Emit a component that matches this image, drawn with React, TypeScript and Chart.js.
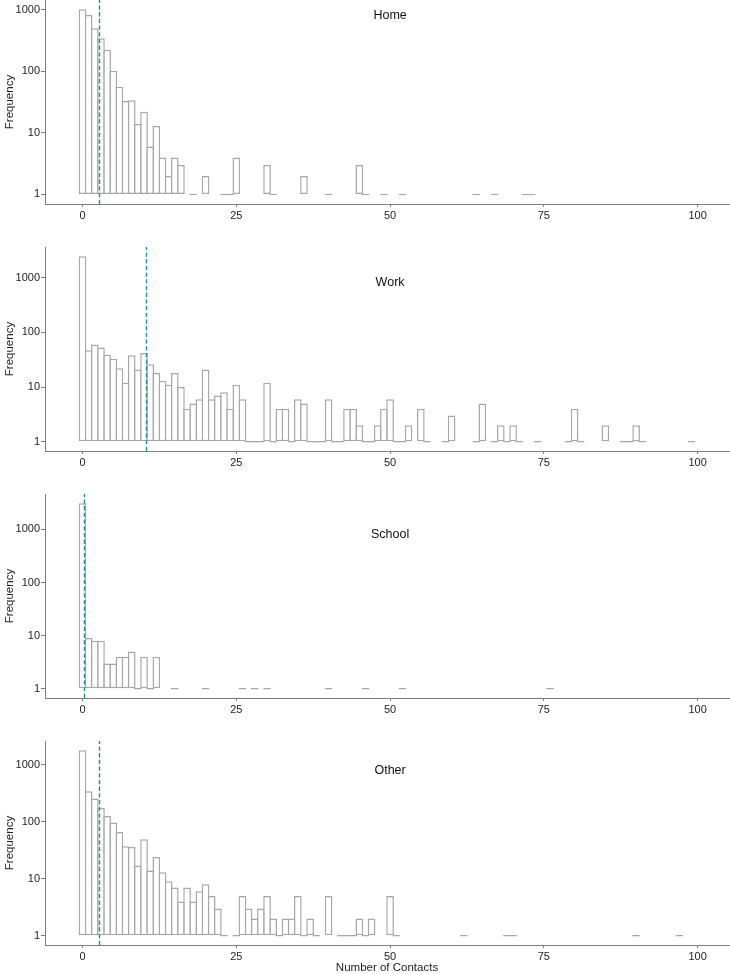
import React, { useEffect, useRef } from 'react';
import { Chart, registerables } from 'chart.js';

Chart.register(...registerables);

// ---------- data ----------
const xTicks = [0, 25, 50, 75, 100];
const yTicks = [1, 10, 100, 1000];

const homeBins = [0, 1, 2, 3, 4, 5, 6, 7, 8, 9, 10, 11, 12, 13, 14, 15, 16, 18, 20, 23, 24, 25, 30, 31, 36, 40, 45, 46, 49, 52, 64, 67, 72, 73];
const homeCounts = [1020, 826, 503, 346, 224, 102, 56, 33, 34, 14, 22, 6, 13, 4, 2, 4, 3, 1, 2, 1, 1, 4, 3, 1, 2, 1, 3, 1, 1, 1, 1, 1, 1, 1];
const homeMean = 2.7;

const workBins = [0, 1, 2, 3, 4, 5, 6, 7, 8, 9, 10, 11, 12, 13, 14, 15, 16, 17, 18, 19, 20, 21, 22, 23, 24, 25, 26, 27, 28, 29, 30, 31, 32, 33, 34, 35, 36, 37, 38, 39, 40, 41, 42, 43, 44, 45, 46, 47, 48, 49, 50, 51, 52, 53, 55, 56, 59, 60, 64, 65, 67, 68, 69, 70, 71, 74, 79, 80, 81, 85, 88, 89, 90, 91, 99];
const workCounts = [2450, 47, 60, 53, 39, 33, 22, 12, 38, 21, 42, 26, 18, 13, 11, 18, 10, 4, 5, 6, 21, 6, 7, 8, 4, 11, 6, 1, 1, 1, 12, 1, 4, 4, 1, 6, 5, 1, 1, 1, 6, 1, 1, 4, 4, 2, 1, 1, 2, 4, 6, 1, 1, 2, 4, 1, 1, 3, 1, 5, 1, 2, 1, 2, 1, 1, 1, 4, 1, 2, 1, 1, 2, 1, 1];
const workMean = 10.4;

const schoolBins = [0, 1, 2, 3, 4, 5, 6, 7, 8, 9, 10, 11, 12, 15, 20, 26, 28, 30, 40, 46, 52, 76];
const schoolCounts = [3100, 9, 8, 8, 3, 3, 4, 4, 5, 1, 4, 1, 4, 1, 1, 1, 1, 1, 1, 1, 1, 1];
const schoolMean = 0.2;

const otherBins = [0, 1, 2, 3, 4, 5, 6, 7, 8, 9, 10, 11, 12, 13, 14, 15, 16, 17, 18, 19, 20, 21, 22, 23, 25, 26, 27, 28, 29, 30, 31, 32, 33, 34, 35, 36, 37, 38, 40, 42, 43, 44, 45, 46, 47, 50, 51, 62, 69, 70, 90, 97];
const otherCounts = [1790, 342, 255, 175, 126, 97, 66, 37, 36, 17, 49, 14, 24, 13, 9, 7, 4, 7, 4, 6, 8, 5, 3, 1, 1, 5, 3, 2, 3, 5, 2, 1, 2, 2, 5, 1, 2, 1, 5, 1, 1, 1, 2, 1, 2, 5, 1, 1, 1, 1, 1, 1];
const otherMean = 2.7;

const panelTitles = ['Home', 'Work', 'School', 'Other'];
const titleX = 50;
const titleY = 800;

// ---------- style ----------
const FONT = '"Liberation Sans", Arial, Helvetica, sans-serif';
const BAR_EDGE = '#a8a8a8';
const AXIS = '#7f7f7f';
const TEXT = '#1e1e1e';
const MEAN_COLOR = '#24909f';
const X_MIN = -6.1;
const X_MAX = 105.1;
const AREA_LEFT = 45;
const AREA_RIGHT_PAD = 1;
const WIDTH = 730;
const AREA_H = 204;
const EDGE_W = 1.5;

Chart.defaults.font.family = FONT;

type Panel = { title: string; bins: number[]; counts: number[]; mean: number };

const panels: Panel[] = [
  { title: panelTitles[0], bins: homeBins, counts: homeCounts, mean: homeMean },
  { title: panelTitles[1], bins: workBins, counts: workCounts, mean: workMean },
  { title: panelTitles[2], bins: schoolBins, counts: schoolCounts, mean: schoolMean },
  { title: panelTitles[3], bins: otherBins, counts: otherCounts, mean: otherMean },
];

const panelDecor = {
  id: 'panelDecor',
  afterDatasetsDraw(chart: any, _args: any, opts: any) {
    const { ctx, chartArea, scales } = chart;
    const x = scales.x;
    const y = scales.y;
    const px = Math.round(x.getPixelForValue(opts.mean)) + 0.5;
    ctx.save();
    ctx.strokeStyle = MEAN_COLOR;
    ctx.lineWidth = 1.4;
    ctx.setLineDash([4.3, 2.4]);
    ctx.beginPath();
    ctx.moveTo(px, chartArea.bottom);
    ctx.lineTo(px, chartArea.top);
    ctx.stroke();
    ctx.setLineDash([]);
    ctx.fillStyle = '#111111';
    ctx.font = '12.5px ' + FONT;
    ctx.textAlign = 'center';
    ctx.textBaseline = 'middle';
    ctx.fillText(opts.title, x.getPixelForValue(opts.labelX), y.getPixelForValue(opts.labelY));
    ctx.restore();
  },
};

function makeConfig(p: Panel, isLast: boolean, canvasH: number): any {
  const L = Math.log10(Math.max(...p.counts));
  const yMin = Math.pow(10, -0.05 * L);
  const yMax = Math.pow(10, 1.05 * L);
  const unitPx = (WIDTH - AREA_RIGHT_PAD - AREA_LEFT) / (X_MAX - X_MIN);
  const widen = (unitPx + EDGE_W) / unitPx;
  const xAxisH = canvasH - AREA_H;
  return {
    type: 'bar',
    data: {
      datasets: [
        {
          data: p.bins.map((b, i) => ({ x: b, y: p.counts[i] })),
          base: 1,
          backgroundColor: '#ffffff',
          borderColor: BAR_EDGE,
          borderWidth: EDGE_W,
          borderSkipped: false,
          minBarLength: EDGE_W,
          categoryPercentage: 1,
          barPercentage: widen,
        },
      ],
    },
    options: {
      animation: false,
      responsive: false,
      maintainAspectRatio: false,
      events: [],
      layout: { padding: { left: 0, right: AREA_RIGHT_PAD, top: 0, bottom: 0 } },
      plugins: {
        legend: { display: false },
        tooltip: { enabled: false },
        panelDecor: { mean: p.mean, title: p.title, labelX: titleX, labelY: titleY },
      },
      scales: {
        x: {
          type: 'linear',
          min: X_MIN,
          max: X_MAX,
          offset: false,
          afterBuildTicks: (s: any) => {
            s.ticks = xTicks.map((v) => ({ value: v }));
          },
          afterFit: (s: any) => {
            s.height = xAxisH;
            s.paddingLeft = 0;
            s.paddingRight = 0;
          },
          grid: { display: true, drawOnChartArea: false, drawTicks: true, tickLength: 3, color: AXIS, lineWidth: 1, offset: false },
          border: { display: true, color: AXIS, width: 1 },
          ticks: {
            color: TEXT,
            font: { size: 11, family: FONT },
            padding: 2,
            maxRotation: 0,
            autoSkip: false,
            callback: (v: any) => String(v),
          },
          title: {
            display: isLast,
            text: 'Number of Contacts',
            color: TEXT,
            font: { size: 11.5, family: FONT, lineHeight: 1 },
            padding: { top: 0, bottom: 0 },
          },
        },
        y: {
          type: 'logarithmic',
          min: yMin,
          max: yMax,
          afterBuildTicks: (s: any) => {
            s.ticks = yTicks.map((v) => ({ value: v }));
          },
          afterFit: (s: any) => {
            s.width = AREA_LEFT;
            s.paddingTop = 0;
            s.paddingBottom = 0;
          },
          grid: { display: true, drawOnChartArea: false, drawTicks: true, tickLength: 4, color: AXIS, lineWidth: 1 },
          border: { display: true, color: AXIS, width: 1 },
          ticks: {
            color: TEXT,
            font: { size: 11, family: FONT },
            padding: 1,
            autoSkip: false,
            callback: (v: any) => String(v),
          },
          title: {
            display: true,
            text: 'Frequency',
            color: TEXT,
            font: { size: 11.5, family: FONT },
            padding: { top: 3, bottom: 0 },
          },
        },
      },
    },
    plugins: [panelDecor],
  };
}

function PanelChart({ p, isLast, top, height }: { p: Panel; isLast: boolean; top: number; height: number }) {
  const ref = useRef<HTMLCanvasElement>(null);
  useEffect(() => {
    if (!ref.current) return;
    const chart = new Chart(ref.current, makeConfig(p, isLast, height));
    return () => chart.destroy();
  }, [p, isLast, height]);
  return (
    <canvas
      ref={ref}
      width={WIDTH}
      height={height}
      style={{ position: 'absolute', left: 0, top, width: WIDTH, height, display: 'block' }}
    />
  );
}

const PANEL_TOPS = [0, 247, 494, 741];
const TOTAL_H = 974;

export default function App() {
  return (
    <div style={{ position: 'absolute', left: 0, top: 0, width: WIDTH, height: TOTAL_H, background: '#ffffff', overflow: 'hidden' }}>
      {panels.map((p, i) => {
        const top = PANEL_TOPS[i];
        const height = i < panels.length - 1 ? PANEL_TOPS[i + 1] - top : TOTAL_H - top;
        return <PanelChart key={p.title} p={p} isLast={i === panels.length - 1} top={top} height={height} />;
      })}
    </div>
  );
}
